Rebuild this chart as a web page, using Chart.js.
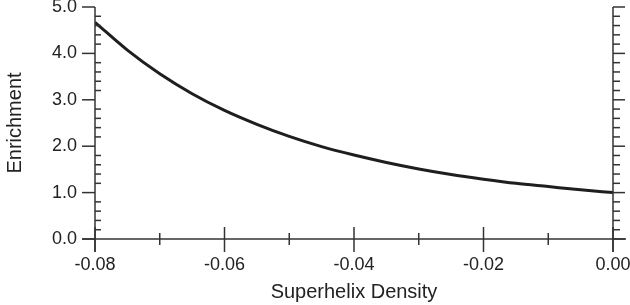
<!DOCTYPE html>
<html>
<head>
<meta charset="utf-8">
<script src="https://cdn.jsdelivr.net/npm/chart.js@4.4.1/dist/chart.umd.min.js"></script>
<style>
  html, body { margin: 0; padding: 0; background: #fff; }
  #wrap { width: 630px; height: 305px; }
</style>
</head>
<body>
<div id="wrap"><canvas id="chart"></canvas></div>
<script>
// values
const superhelixDensity = [-0.08, -0.075, -0.07, -0.065, -0.06, -0.055, -0.05, -0.045, -0.04,
  -0.035, -0.03, -0.025, -0.02, -0.015, -0.01, -0.005, 0];
const enrichment = [4.67, 4.07, 3.56, 3.13, 2.77, 2.47, 2.21, 1.99, 1.81,
  1.65, 1.51, 1.39, 1.29, 1.20, 1.13, 1.06, 1.00];

const xMajorTicks = [-0.08, -0.06, -0.04, -0.02, 0];
const xMinorTicks = [-0.07, -0.05, -0.03, -0.01];
const yMajorTicks = [0, 1, 2, 3, 4, 5];
const yMinorStep = 0.2;

const axisColor = '#333';
const textColor = '#222';
const font = 'Liberation Sans, Arial, Helvetica, sans-serif';

// axis lines and tick marks (inside/outside, major/minor)
const tickMarks = {
  id: 'tickMarks',
  afterDatasetsDraw(chart) {
    const { ctx, scales: { x, y } } = chart;
    const L = x.getPixelForValue(-0.08), R = x.getPixelForValue(0);
    const B = y.getPixelForValue(0), T = y.getPixelForValue(5);
    ctx.save();
    ctx.strokeStyle = axisColor;
    ctx.lineWidth = 1.5;
    ctx.lineCap = 'butt';
    const seg = (x1, y1, x2, y2) => {
      ctx.beginPath(); ctx.moveTo(x1, y1); ctx.lineTo(x2, y2); ctx.stroke();
    };
    // frame: left, right, bottom
    seg(L, T, L, B + 13);
    seg(R, T, R, B + 13);
    seg(L - 13, B, R + 13, B);
    // y major ticks: outward on the left, outward on the right
    yMajorTicks.forEach(v => {
      const p = y.getPixelForValue(v);
      seg(L - 13, p, L, p);
      seg(R, p, R + 12, p);
    });
    // y minor ticks: inside on the left, outward on the right
    for (let v = yMinorStep; v < 5; v += yMinorStep) {
      if (Math.abs(v - Math.round(v)) < 1e-6) continue;
      const p = y.getPixelForValue(v);
      seg(L, p, L + 6, p);
      seg(R, p, R + 7, p);
    }
    // x ticks cross the axis
    xMajorTicks.forEach(v => {
      const p = x.getPixelForValue(v);
      seg(p, B - 12, p, B + 13);
    });
    xMinorTicks.forEach(v => {
      const p = x.getPixelForValue(v);
      seg(p, B - 6, p, B + 6);
    });
    ctx.restore();
  }
};

new Chart(document.getElementById('chart'), {
  type: 'line',
  data: {
    datasets: [{
      data: superhelixDensity.map((s, i) => ({ x: s, y: enrichment[i] })),
      borderColor: '#1e1e1e',
      borderWidth: 3,
      pointRadius: 0,
      cubicInterpolationMode: 'monotone',
      fill: false
    }]
  },
  options: {
    responsive: true,
    maintainAspectRatio: false,
    animation: false,
    layout: { padding: 0 },
    plugins: { legend: { display: false }, tooltip: { enabled: false } },
    scales: {
      x: {
        type: 'linear',
        min: -0.08,
        max: 0,
        afterBuildTicks: s => { s.ticks = xMajorTicks.map(v => ({ value: v })); },
        afterFit: s => { s.height = 66; s.paddingLeft = 0; s.paddingRight = 17; },
        grid: { display: false, drawTicks: false },
        border: { display: false },
        ticks: {
          padding: 15,
          maxRotation: 0,
          color: textColor,
          font: { family: font, size: 18 },
          callback: v => Number(v).toFixed(2)
        },
        title: {
          display: true,
          text: 'Superhelix Density',
          color: textColor,
          font: { family: font, size: 20 },
          padding: { top: 0, bottom: 1 }
        }
      },
      y: {
        min: 0,
        max: 5,
        afterBuildTicks: s => { s.ticks = yMajorTicks.map(v => ({ value: v })); },
        afterFit: s => { s.width = 95; s.paddingTop = 7; s.paddingBottom = 0; },
        grid: { display: false, drawTicks: false },
        border: { display: false },
        ticks: {
          padding: 18,
          color: textColor,
          font: { family: font, size: 18 },
          callback: v => Number(v).toFixed(1)
        },
        title: {
          display: true,
          text: 'Enrichment',
          color: textColor,
          font: { family: font, size: 20 },
          padding: { top: 3, bottom: 0 }
        }
      }
    }
  },
  plugins: [tickMarks]
});
</script>
</body>
</html>
